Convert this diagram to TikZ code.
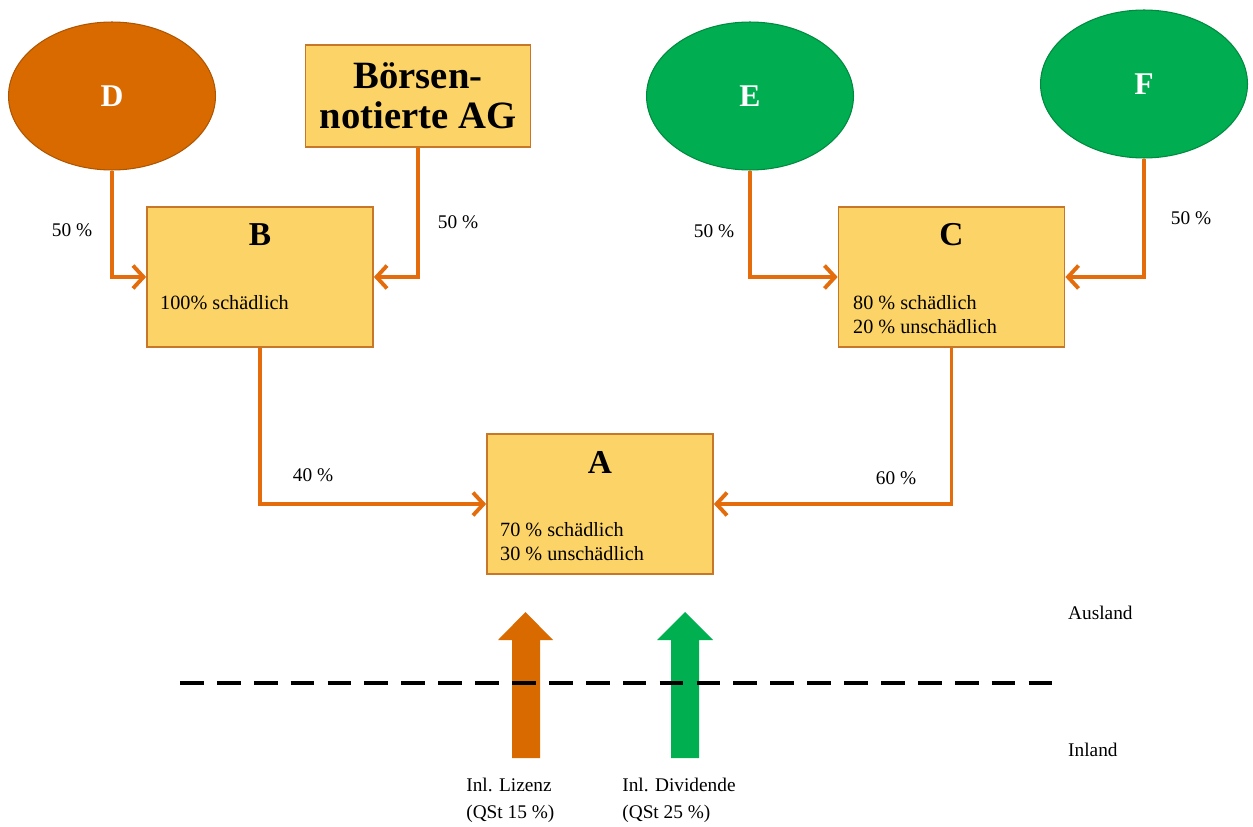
\documentclass[tikz,border=0pt]{standalone}
\usepackage{xcolor}
\usepackage{fontspec}
\setmainfont{Liberation Serif}
\usepackage{tikz}
\usetikzlibrary{positioning,calc,shapes.geometric,arrows.meta}

\definecolor{ownorange}{RGB}{217,106,0}
\definecolor{owngreen}{RGB}{0,173,80}
\definecolor{boxfill}{RGB}{252,211,103}
\definecolor{boxline}{RGB}{200,118,40}
\definecolor{linkcol}{RGB}{228,108,10}
\definecolor{divgreen}{RGB}{0,176,80}

\begin{document}
\begin{tikzpicture}[x=0.02cm,y=-0.02cm,
    box/.style={draw=boxline,fill=boxfill,line width=1pt,minimum width=4.52cm,minimum height=2.8cm,inner sep=0pt},
    owner/.style={ellipse,draw=#1!80!black,fill=#1,line width=0.6pt,minimum width=4.14cm,minimum height=2.96cm,
        text=white,font=\bfseries\fontsize{18}{20}\selectfont},
    title/.style={font=\bfseries\fontsize{19}{22}\selectfont},
    info/.style={anchor=west,align=left,font=\fontsize{11.5}{13.6}\selectfont},
    pct/.style={font=\fontsize{11}{13}\selectfont},
    link/.style={draw=linkcol,line width=2.2pt,-{Straight Barb[length=6pt,width=13pt]}}]
    \useasboundingbox (0,0) rectangle (1253,827);

    % owners
    \node[owner=ownorange] (D) at (112,96) {D};
    \node[owner=owngreen] (E) at (750,96) {E};
    \node[owner=owngreen] (F) at (1144,84) {F};
    \node[box,minimum width=4.5cm,minimum height=2.04cm,align=center,font=\bfseries\fontsize{22}{22.7}\selectfont]
        (AG) at (418,96) {Börsen-\\notierte AG};

    % companies
    \node[box] (B) at (260,277) {};
    \node[title] (Bt) at (260,235) {B};
    \node[info] (Bi) at (154,303) {100\% schädlich};

    \node[box] (C) at (951.5,277) {};
    \node[title] (Ct) at (951.5,235) {C};
    \node[info] (Ci) at (847,315) {80 \% schädlich\\20 \% unschädlich};

    \node[box] (A) at (600,504) {};
    \node[title] (At) at (600,462) {A};
    \node[info] (Ai) at (494,542) {70 \% schädlich\\30 \% unschädlich};

    % holdings
    \draw[link] (D.south) |- (B.west);
    \draw[link] (AG.south) |- (B.east);
    \draw[link] (E.south) |- (C.west);
    \draw[link] (F.south) |- (C.east);
    \draw[link] (B.south) |- (A.west);
    \draw[link] (C.south) |- (A.east);
    \node[pct] (pD) at (72,230) {50 \%};
    \node[pct] (pAG) at (458,222) {50 \%};
    \node[pct] (pE) at (714,231) {50 \%};
    \node[pct] (pF) at (1191,218) {50 \%};
    \node[pct] (pB) at (313,475) {40 \%};
    \node[pct] (pC) at (896,478) {60 \%};

    % payments
    \fill[ownorange] (512,758) -- (512,640) -- (498,640) -- (525.5,612) -- (553,640) -- (540,640) -- (540,758) -- cycle;
    \fill[divgreen] (671,758) -- (671,640) -- (657,640) -- (685,612) -- (713,640) -- (699,640) -- (699,758) -- cycle;
    \node[pct,anchor=north west,align=left,inner sep=0pt,font=\fontsize{11}{15}\selectfont]
        (liz) at (466,778) {Inl. Lizenz\\(QSt 15 \%)};
    \node[pct,anchor=north west,align=left,inner sep=0pt,font=\fontsize{11}{15}\selectfont]
        (div) at (622,778) {Inl. Dividende\\(QSt 25 \%)};

    % border
    \draw[black,line width=2.3pt,dash pattern=on 13.5pt off 7.5pt] (180,683) -- (1055,683);
    \node[pct,anchor=west] (aus) at (1062,613) {Ausland};
    \node[pct,anchor=west] (inl) at (1062,750) {Inland};
\end{tikzpicture}
\end{document}
